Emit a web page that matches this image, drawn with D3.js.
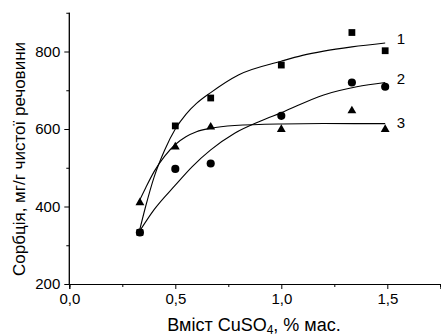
<!DOCTYPE html>
<html>
<head>
<meta charset="utf-8">
<script src="https://cdn.jsdelivr.net/npm/d3@7"></script>
<style>
  body { margin: 0; background: #fff; }
  svg { display: block; font-family: "Liberation Sans", Arial, sans-serif; }
</style>
</head>
<body>
<svg id="chart" width="441" height="336"></svg>
<script>
// measured points
const xPoints = [0.333, 0.5, 0.667, 1.0, 1.333, 1.49]
const series1 = [333, 608, 680, 765, 849, 802]
const series2 = [333, 497, 511, 634, 720, 709]
const series3 = [410, 554, 605, 599, 647, 599]

// fitted curves
const fit1X = [0.33, 0.36, 0.4, 0.45, 0.5, 0.55, 0.6, 0.667, 0.8, 1.0, 1.1, 1.2, 1.333, 1.49]
const fit1Y = [335, 400, 476, 546, 600, 638, 666, 694, 740, 775, 790, 801, 812, 822]
const fit2X = [0.33, 0.4, 0.5, 0.58, 0.667, 0.78, 0.9, 1.0, 1.2, 1.356, 1.49]
const fit2Y = [335, 392, 455, 503, 546, 589, 620, 642, 688, 709, 720]
const fit3X = [0.327, 0.36, 0.4, 0.45, 0.5, 0.55, 0.6, 0.667, 0.78, 1.0, 1.2, 1.49]
const fit3Y = [411, 448, 490, 530, 560, 580, 593, 602, 609, 613, 614, 614]

const seriesLabels = ["1", "2", "3"]
const labelY = [832, 729, 615]

const xMajor = [0, 0.5, 1.0, 1.5]
const xMinor = [0.25, 0.75, 1.25, 1.75]
const yMajor = [200, 400, 600, 800]
const yMinor = [300, 500, 700, 900]

const svg = d3.select("#chart")
svg.append("rect").attr("width", 441).attr("height", 336).attr("fill", "#fff")

const x = d3.scaleLinear().domain([0, 1.75]).range([69.3, 440.3])
const y = d3.scaleLinear().domain([200, 900]).range([284, 12.75])

const comma = (v) => d3.format(".1f")(v).replace(".", ",")

// x axis
const gx = svg.append("g").attr("transform", "translate(0,284)")
gx.call(d3.axisBottom(x).tickValues(xMajor).tickSize(5).tickPadding(4).tickFormat(comma))
gx.append("g").call(d3.axisBottom(x).tickValues(xMinor).tickSize(3).tickFormat(""))
gx.selectAll(".domain").attr("stroke", "#000")
gx.selectAll("text").attr("font-size", 15).attr("fill", "#000").attr("font-family", "Liberation Sans, Arial, sans-serif")

// y axis
const gy = svg.append("g").attr("transform", "translate(69.3,0)")
gy.call(d3.axisLeft(y).tickValues(yMajor).tickSize(5).tickPadding(4))
gy.append("g").call(d3.axisLeft(y).tickValues(yMinor).tickSize(3).tickFormat(""))
gy.selectAll("text").attr("font-size", 15).attr("fill", "#000").attr("font-family", "Liberation Sans, Arial, sans-serif")
gy.selectAll(".domain").attr("d", `M0,${y(900)}V${y(200)}`)

// fitted lines
const line = d3.line().x((d) => x(d[0])).y((d) => y(d[1])).curve(d3.curveMonotoneX)
const fits = [d3.zip(fit1X, fit1Y), d3.zip(fit2X, fit2Y), d3.zip(fit3X, fit3Y)]
svg.append("g").selectAll("path").data(fits).join("path")
  .attr("d", line).attr("fill", "none").attr("stroke", "#000").attr("stroke-width", 1.1)

// markers
const shapes = [
  { vals: series1, sym: d3.symbolSquare, size: 46 },
  { vals: series2, sym: d3.symbolCircle, size: 52 },
  { vals: series3, sym: d3.symbolTriangle, size: 34 },
]
shapes.forEach((s) => {
  svg.append("g").selectAll("path").data(xPoints.map((xv, i) => [xv, s.vals[i]])).join("path")
    .attr("transform", (d) => `translate(${x(d[0])},${y(d[1])})`)
    .attr("d", d3.symbol(s.sym, s.size)).attr("fill", "#000")
})

// series numbers
svg.append("g").selectAll("text").data(seriesLabels).join("text")
  .attr("x", x(1.545)).attr("y", (d, i) => y(labelY[i]))
  .attr("dy", "0.35em").attr("font-size", 15).text((d) => d)

// axis titles
svg.append("text").attr("transform", "translate(25,159) rotate(-90)")
  .attr("text-anchor", "middle").attr("font-size", 17)
  .text("Сорбція, мг/г чистої речовини")

const xt = svg.append("text").attr("x", 254).attr("y", 331)
  .attr("text-anchor", "middle").attr("font-size", 18)
xt.append("tspan").text("Вміст CuSO")
xt.append("tspan").attr("font-size", 12).attr("dy", 3).text("4")
xt.append("tspan").attr("dy", -3).text(", % мас.")
</script>
</body>
</html>
